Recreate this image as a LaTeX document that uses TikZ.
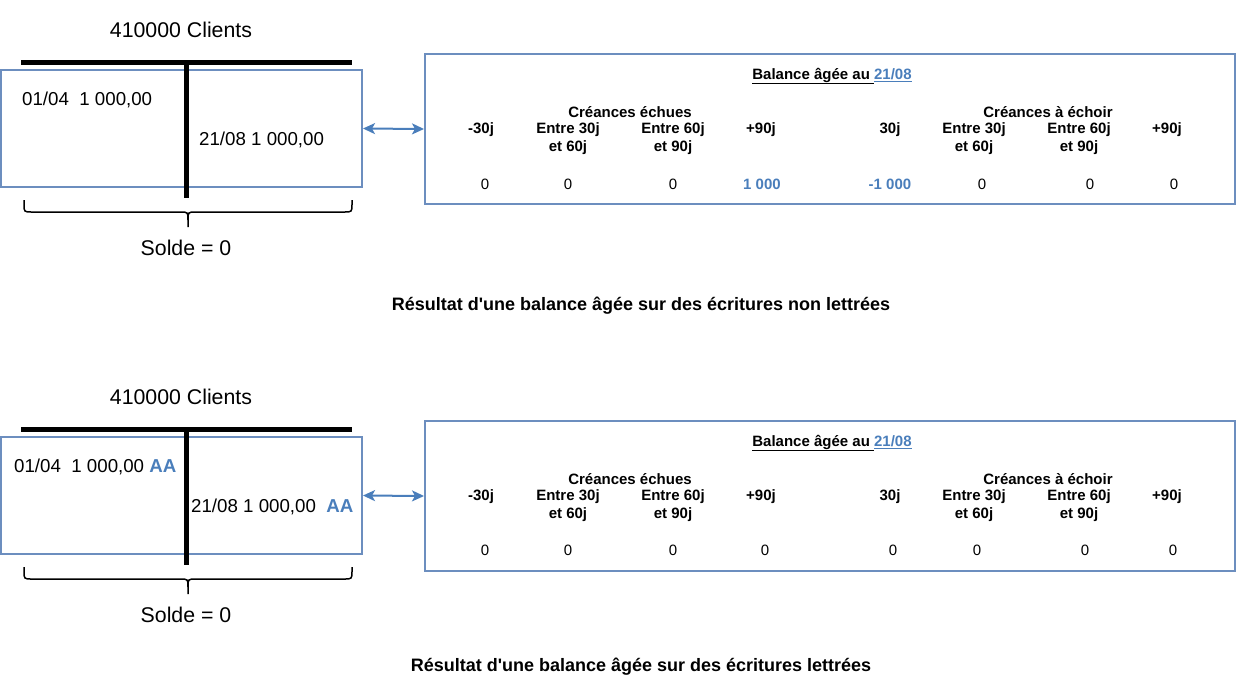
\documentclass[tikz,border=0pt]{standalone}
\usepackage{fontspec}
\setmainfont{Liberation Sans}[Ligatures=TeXOff]
\usetikzlibrary{arrows.meta}
\definecolor{boxblue}{HTML}{6C8EBF}
\definecolor{tblue}{HTML}{4A7EBB}
\tikzset{
  big/.style={inner sep=0pt, font=\fontsize{21.3}{25}\selectfont},
  entry/.style={inner sep=0pt, font=\fontsize{18.7}{22}\selectfont, anchor=west},
  hdr/.style={inner sep=0pt, align=center, font=\bfseries\fontsize{15}{18}\selectfont},
  val/.style={inner sep=0pt, font=\fontsize{15}{18}\selectfont},
  bval/.style={inner sep=0pt, text=tblue, font=\bfseries\fontsize{15}{18}\selectfont},
  caption/.style={inner sep=0pt, font=\bfseries\fontsize{18}{22}\selectfont},
  frame/.style={draw=boxblue, line width=2pt, inner sep=0pt},
  tbar/.style={line width=5pt, black},
  bracepath/.style={line width=1.5pt, black},
  link/.style={draw=tblue, line width=2pt, {Stealth[length=12pt,width=11pt,inset=3pt]}-{Stealth[length=12pt,width=11pt,inset=3pt]}},
}
\begin{document}
\begin{tikzpicture}[x=1pt,y=-1pt]
\useasboundingbox (0,0) rectangle (1236,678);

% ================= TOP =================
\node[big] (t1) at (181,30) {410000 Clients};
\node[frame, minimum width=361pt, minimum height=117pt] (acct1) at (181.5,128.5) {};
\draw[tbar] (21,62) -- (352,62);
\draw[tbar] (186,62) -- (186,198);
\node[entry] (d1) at (22,100) {01/04\ \ 1 000,00};
\node[entry] (c1) at (199,140) {21/08 1 000,00};
\draw[bracepath] (24,200) -- (24,204) .. controls (24,212) .. (32,212) -- (180,212) .. controls (188,212) .. (188,220) -- (188,227);
\draw[bracepath] (352,200) -- (352,204) .. controls (352,212) .. (344,212) -- (196,212) .. controls (188,212) .. (188,220);
\node[big] (s1) at (186,248) {Solde = 0};

\node[frame, minimum width=810pt, minimum height=150pt] (tab1) at (830,129) {};
\draw[link] (acct1.east) -- (tab1.west);
\node[hdr] (ti1) at (832,76) {\underline{Balance âgée au }\textcolor{tblue}{\underline{21/08}}};
\node[hdr] (ce1) at (630,112) {Créances échues};
\node[hdr] (ca1) at (1048,112) {Créances à échoir};
\node[hdr] (h11) at (481,130) {-30j};
\node[hdr] (h12) at (568,139) {Entre 30j\\et 60j};
\node[hdr] (h13) at (673,139) {Entre 60j\\et 90j};
\node[hdr] (h14) at (761,130) {+90j};
\node[hdr] (h15) at (890,130) {30j};
\node[hdr] (h16) at (974,139) {Entre 30j\\et 60j};
\node[hdr] (h17) at (1079,139) {Entre 60j\\et 90j};
\node[hdr] (h18) at (1167,130) {+90j};
\node[val] (v11) at (485,184) {0};
\node[val] (v12) at (568,184) {0};
\node[val] (v13) at (673,184) {0};
\node[bval] (v14) at (762,184) {1 000};
\node[bval] (v15) at (890,184) {-1 000};
\node[val] (v16) at (982,184) {0};
\node[val] (v17) at (1090,184) {0};
\node[val] (v18) at (1174,184) {0};
\node[caption] (cap1) at (641,306) {Résultat d'une balance âgée sur des écritures non lettrées};

% ================= BOTTOM =================
\node[big] (t2) at (181,397) {410000 Clients};
\node[frame, minimum width=361pt, minimum height=117pt] (acct2) at (181.5,495.5) {};
\draw[tbar] (21,429) -- (352,429);
\draw[tbar] (186,429) -- (186,565);
\node[entry] (d2) at (14,467) {01/04\ \ 1 000,00 \textcolor{tblue}{\bfseries AA}};
\node[entry] (c2) at (191,507) {21/08 1 000,00\ \ \textcolor{tblue}{\bfseries AA}};
\draw[bracepath] (24,567) -- (24,571) .. controls (24,579) .. (32,579) -- (180,579) .. controls (188,579) .. (188,587) -- (188,594);
\draw[bracepath] (352,567) -- (352,571) .. controls (352,579) .. (344,579) -- (196,579) .. controls (188,579) .. (188,587);
\node[big] (s2) at (186,615) {Solde = 0};

\node[frame, minimum width=810pt, minimum height=150pt] (tab2) at (830,496) {};
\draw[link] (acct2.east) -- (tab2.west);
\node[hdr] (ti2) at (832,443) {\underline{Balance âgée au }\textcolor{tblue}{\underline{21/08}}};
\node[hdr] (ce2) at (630,479) {Créances échues};
\node[hdr] (ca2) at (1048,479) {Créances à échoir};
\node[hdr] (h21) at (481,497) {-30j};
\node[hdr] (h22) at (568,506) {Entre 30j\\et 60j};
\node[hdr] (h23) at (673,506) {Entre 60j\\et 90j};
\node[hdr] (h24) at (761,497) {+90j};
\node[hdr] (h25) at (890,497) {30j};
\node[hdr] (h26) at (974,506) {Entre 30j\\et 60j};
\node[hdr] (h27) at (1079,506) {Entre 60j\\et 90j};
\node[hdr] (h28) at (1167,497) {+90j};
\node[val] (v21) at (485,550) {0};
\node[val] (v22) at (568,550) {0};
\node[val] (v23) at (673,550) {0};
\node[val] (v24) at (765,550) {0};
\node[val] (v25) at (893,550) {0};
\node[val] (v26) at (977,550) {0};
\node[val] (v27) at (1085,550) {0};
\node[val] (v28) at (1173,550) {0};
\node[caption] (cap2) at (641,667) {Résultat d'une balance âgée sur des écritures lettrées};
\end{tikzpicture}
\end{document}
